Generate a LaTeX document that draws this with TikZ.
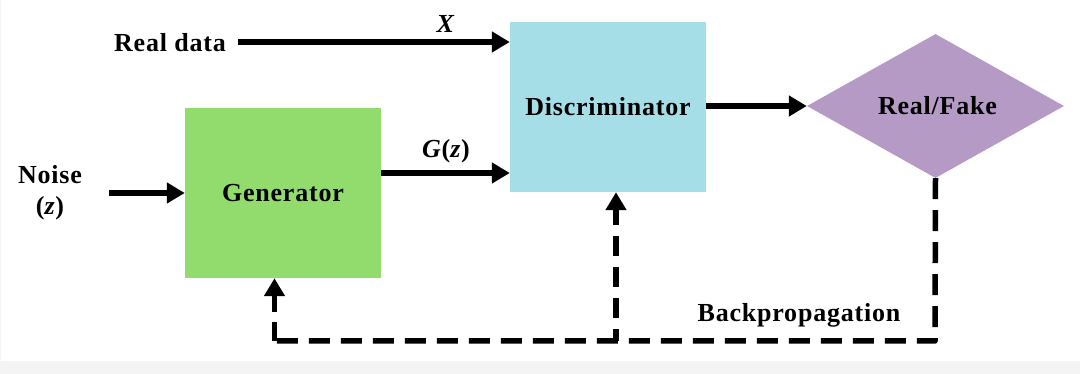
\documentclass[tikz,border=0pt]{standalone}
\usepackage{fontspec}
\setmainfont{Liberation Serif}[LetterSpace=3]
\usetikzlibrary{arrows.meta,shapes.geometric}
\definecolor{gengreen}{RGB}{146,220,110}
\definecolor{discblue}{RGB}{166,222,232}
\definecolor{rfpurple}{RGB}{180,154,196}
\definecolor{stripgray}{RGB}{244,244,244}
\tikzset{
  lbl/.style={font=\fontsize{26}{31}\selectfont\bfseries, text=black, inner sep=0pt},
  blockbox/.style={minimum width=196pt, minimum height=170pt, inner sep=0pt, font=\fontsize{26}{31}\selectfont\bfseries},
  arr/.style={line width=5.5pt, -{Triangle[length=18pt,width=20pt]}},
  dsh/.style={line width=5.5pt, dash pattern=on 21pt off 11pt, line join=round},
  dsharr/.style={line width=5.5pt, line join=round, -{Triangle[length=18pt,width=20pt]}}
}
\begin{document}
\begin{tikzpicture}[x=1pt,y=-1pt]
\useasboundingbox (0,0) rectangle (1080,374);
\fill[white] (0,0) rectangle (1080,374);
\fill[stripgray] (0,361) rectangle (1080,374);
\fill[stripgray] (0,0) rectangle (1.3,361);

\node[blockbox, fill=gengreen] (gen) at (283,193) {Generator};
\node[blockbox, fill=discblue] (disc) at (608,107) {Discriminator};
\node[diamond, fill=rfpurple, minimum width=257pt, minimum height=144pt, inner sep=0pt, aspect=1.78, font=\fontsize{26}{31}\selectfont\bfseries] (rf) at (935.5,106) {\hspace*{4pt}Real/Fake};

\node[lbl] (rd) at (170,43) {Real data};
\node[lbl, align=center] (noise) at (50,193) {Noise\\(\textit{z})};
\node[lbl] (xl) at (446,24) {\textit{X}};
\node[lbl] (gzl) at (446,151) {\textit{G}(\textit{z})};
\node[lbl] (bp) at (799,315) {Backpropagation};

\coordinate (rdstart) at (238,42);
\coordinate (nzstart) at (109,193);
\coordinate (br) at (935,341);
\coordinate (bd) at (616,341);
\coordinate (bl) at (274.5,341);

\draw[arr] (rdstart) -- (rdstart -| disc.west);
\draw[arr] (nzstart) -- (nzstart -| gen.west);
\draw[arr] ([yshift=20pt]gen.east) -- ([yshift=20pt]gen.east -| disc.west);
\draw[arr] (disc.east |- rf.west) -- (rf.west);

\draw[dsh] (rf.south) -- (br) -- (bl);
\draw[dsharr, dash pattern=on 19pt off 10pt] (bl) -- (bl |- gen.south);
\draw[dsharr, dash pattern=on 20pt off 11pt, dash phase=8pt] (bd) -- (bd |- disc.south);
\end{tikzpicture}
\end{document}
